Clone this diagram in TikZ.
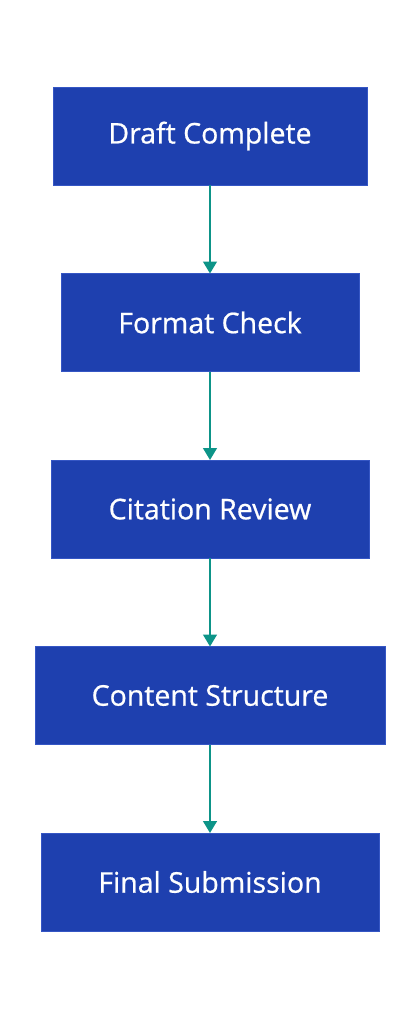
\documentclass[tikz,border=0pt]{standalone}
\usepackage{fontspec}
\setmainfont{Open Sans}
\newfontfamily\stepfont[FakeBold=0.7]{Open Sans}
\usetikzlibrary{positioning,arrows.meta}
\definecolor{stepblue}{HTML}{1E40AF}
\definecolor{stepedge}{HTML}{3556C4}
\definecolor{flowteal}{HTML}{0D9488}
\tikzset{
  stepbox/.style={draw=stepedge,line width=0.8pt,fill=stepblue,text=white,
    minimum height=98pt,inner sep=0pt,outer sep=0pt,
    font=\stepfont\fontsize{28.5}{32}\selectfont},
  flow/.style={draw=flowteal,line width=1.5pt,-{Triangle[width=14pt,length=12pt]}}
}
\begin{document}
\begin{tikzpicture}[node distance=88.5pt]
  \useasboundingbox (0pt,0pt) rectangle (420pt,-1020pt);
  \node[stepbox,minimum width=314pt] (draft) at (210pt,-136pt) {Draft Complete};
  \node[stepbox,minimum width=298pt,below=of draft] (format) {Format Check};
  \node[stepbox,minimum width=318pt,below=of format] (citation) {Citation Review};
  \node[stepbox,minimum width=350pt,below=of citation] (content) {Content Structure};
  \node[stepbox,minimum width=338pt,below=of content] (final) {Final Submission};

  % connectors
  \foreach \a/\b in {draft/format,format/citation,citation/content,content/final}
    \draw[flow] (\a) -- (\b);
\end{tikzpicture}
\end{document}
